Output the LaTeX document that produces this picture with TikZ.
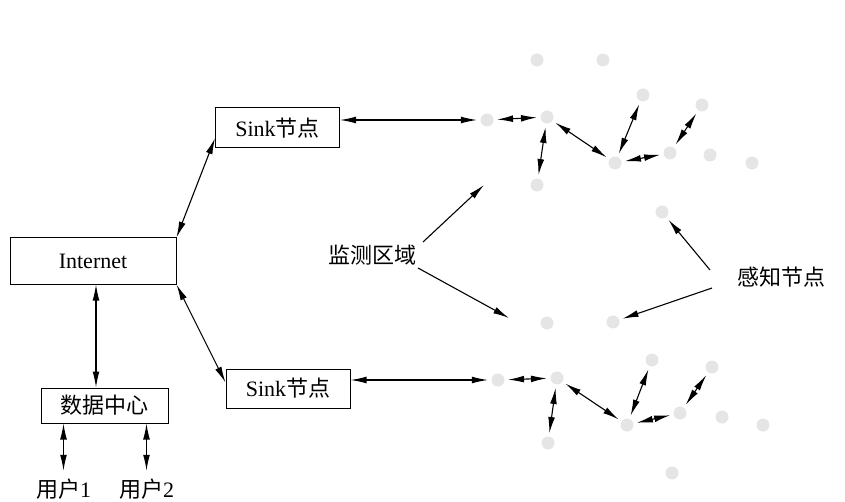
\documentclass[tikz,border=0pt]{standalone}
\usepackage{fontspec}
\setmainfont{Liberation Serif}
\newfontfamily\cjk{Noto Sans CJK SC}
\usetikzlibrary{arrows.meta,calc}
\begin{document}
\begin{tikzpicture}[x=0.5pt,y=-0.5pt,
  txt/.style={font=\fontsize{11}{13}\selectfont},
  box/.style={txt, draw, line width=0.5pt, inner sep=0pt},
  sensor/.style={circle, fill=black!10, minimum size=6.5pt, inner sep=0pt, outer sep=1.8pt},
  link/.style={line width=0.55pt, {Latex[length=8pt,width=3.4pt]}-{Latex[length=8pt,width=3.4pt]}},
  pointer/.style={line width=0.55pt, -{Latex[length=8pt,width=3.4pt]}},
  lbl/.style={txt, inner sep=1pt}]
\useasboundingbox (0,0) rectangle (845,502);

% boxes
\node[box, minimum width=83pt, minimum height=23pt] (inet) at (93,261) {Internet};
\node[box, minimum width=62pt, minimum height=20pt] (sinkA) at (277.5,128) {Sink{\cjk 节点}};
\node[box, minimum width=62pt, minimum height=19.5pt] (sinkB) at (288,388.5) {Sink{\cjk 节点}};
\node[box, minimum width=63.5pt, minimum height=17.5pt] (dc) at (104.5,405.5) {\cjk 数据中心};
\node[lbl, outer sep=3pt] (u1) at (63.5,489) {{\cjk 用户}1};
\node[lbl, outer sep=3pt] (u2) at (146.5,489) {{\cjk 用户}2};
\node[lbl] (area) at (372,255) {\cjk 监测区域};
\node[lbl] (sense) at (781,277) {\cjk 感知节点};

% upper sensor field
\node[sensor] (nt1) at (537,60) {};
\node[sensor] (nt2) at (603,60) {};
\node[sensor] (n1) at (487,120) {};
\node[sensor] (n2) at (547,117) {};
\node[sensor] (n3) at (537,185) {};
\node[sensor] (n4) at (615,163) {};
\node[sensor] (n5) at (643,95) {};
\node[sensor] (n6) at (670,153) {};
\node[sensor] (n7) at (702,105) {};
\node[sensor] (n8) at (710,155) {};
\node[sensor] (n9) at (752,163) {};
\node[sensor] (n10) at (662,212) {};

% lower sensor field
\node[sensor] (mt1) at (547,323) {};
\node[sensor] (mt2) at (613,322) {};
\node[sensor] (m1) at (498,380) {};
\node[sensor] (m2) at (557,378) {};
\node[sensor] (m3) at (548,443) {};
\node[sensor] (m4) at (627,425) {};
\node[sensor] (m5) at (652,360) {};
\node[sensor] (m6) at (680,413) {};
\node[sensor] (m7) at (712,367) {};
\node[sensor] (m8) at (722,417) {};
\node[sensor] (m9) at (763,425) {};
\node[sensor] (m10) at (672,473) {};

% free ends of label pointers
\coordinate (a1) at (423,242);
\coordinate (a1t) at (484,185);
\coordinate (a2) at (418,268);
\coordinate (a2t) at (509,318);
\coordinate (s1) at (710,270);
\coordinate (s2) at (712,288);

% left links
\draw[link] (inet.north east) -- ($(sinkA.west)!0.5!(sinkA.south west)$);
\draw[link] (inet.south east) -- ($(sinkB.west)+(0,-6)$);
\draw[link] ([xshift=1.5pt]inet.south) -- ([xshift=1.5pt]inet.south |- dc.north);
\draw[link] (dc.south -| u1) -- (u1);
\draw[link] (dc.south -| u2) -- (u2);

% upper links
\draw[link] (n1 -| sinkA.east) -- (n1);
\draw[link] (n1) -- (n2);
\draw[link] (n2) -- (n3);
\draw[link] (n2) -- (n4);
\draw[link] (n4) -- (n5);
\draw[link] (n4) -- (n6);
\draw[link] (n6) -- (n7);

% lower links
\draw[link] (m1 -| sinkB.east) -- (m1);
\draw[link] (m1) -- (m2);
\draw[link] (m2) -- (m3);
\draw[link] (m2) -- (m4);
\draw[link] (m4) -- (m5);
\draw[link] (m4) -- (m6);
\draw[link] (m6) -- (m7);

% label pointers
\draw[pointer] (a1) -- (a1t);
\draw[pointer] (a2) -- (a2t);
\draw[pointer] (s1) -- (n10);
\draw[pointer] (s2) -- (mt2);
\end{tikzpicture}
\end{document}
